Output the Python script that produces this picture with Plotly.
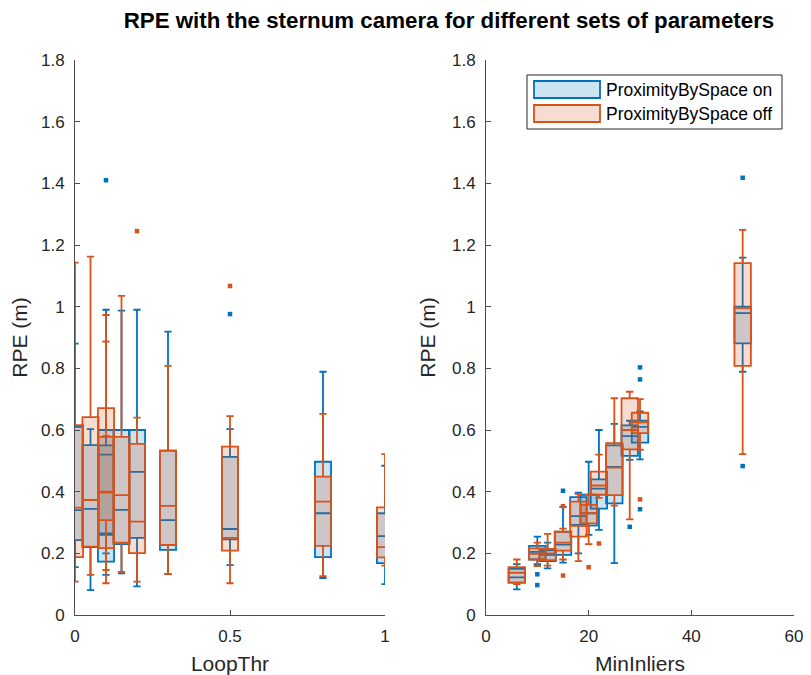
import plotly.graph_objects as go

BLUE = "#0072BD"
ORANGE = "#D95319"
BLUE_FILL = "rgba(0,114,189,0.2)"
ORANGE_FILL = "rgba(217,83,25,0.2)"

# ---------------- Left panel: LoopThr ----------------
loop_pos = [0, 0.05, 0.1, 0.1, 0.15, 0.2, 0.3, 0.5, 0.8, 1.0]
loop_on_lf = [0.155, 0.081, 0.13, 0.20, 0.135, 0.093, 0.133, 0.162, 0.12, 0.10]
loop_on_q1 = [0.243, 0.22, 0.173, 0.26, 0.23, 0.25, 0.211, 0.245, 0.188, 0.168]
loop_on_med = [0.34, 0.344, 0.265, 0.52, 0.341, 0.464, 0.308, 0.279, 0.33, 0.256]
loop_on_q3 = [0.61, 0.551, 0.60, 0.55, 0.60, 0.60, 0.533, 0.513, 0.497, 0.33]
loop_on_uf = [0.88, 0.603, 0.99, 0.58, 0.987, 0.99, 0.919, 0.603, 0.789, 0.484]
loop_on_out_x = [0.1, 0.5]
loop_on_out_y = [1.41, 0.976]

loop_off_lf = [0.108, 0.13, 0.103, 0.146, 0.14, 0.108, 0.133, 0.103, 0.126, 0.16]
loop_off_q1 = [0.188, 0.222, 0.217, 0.308, 0.235, 0.201, 0.227, 0.209, 0.224, 0.187]
loop_off_med = [0.348, 0.373, 0.397, 0.40, 0.389, 0.303, 0.354, 0.25, 0.368, 0.22]
loop_off_q3 = [0.616, 0.642, 0.671, 0.578, 0.578, 0.555, 0.533, 0.546, 0.449, 0.349]
loop_off_uf = [1.143, 1.162, 0.973, 0.887, 1.035, 0.64, 0.808, 0.645, 0.652, 0.522]
loop_off_out_x = [0.2, 0.5]
loop_off_out_y = [1.245, 1.067]

# ---------------- Right panel: MinInliers ----------------
inl_pos = [6, 10, 12, 15, 18, 20, 22, 25, 28, 30, 50]
inl_on_lf = [0.083, 0.165, 0.151, 0.17, 0.20, 0.26, 0.276, 0.168, 0.503, 0.505, 0.789]
inl_on_q1 = [0.105, 0.18, 0.175, 0.195, 0.292, 0.29, 0.345, 0.362, 0.516, 0.559, 0.881]
inl_on_med = [0.122, 0.205, 0.195, 0.228, 0.321, 0.33, 0.41, 0.48, 0.58, 0.61, 0.979]
inl_on_q3 = [0.15, 0.224, 0.21, 0.27, 0.382, 0.39, 0.44, 0.55, 0.615, 0.63, 1.0]
inl_on_uf = [0.165, 0.254, 0.235, 0.351, 0.397, 0.497, 0.60, 0.62, 0.63, 0.66, 1.159]
inl_on_out_x = [10, 10, 15, 28, 30, 30, 30, 50, 50]
inl_on_out_y = [0.132, 0.097, 0.403, 0.286, 0.803, 0.764, 0.343, 1.418, 0.483]

inl_off_lf = [0.10, 0.159, 0.16, 0.18, 0.175, 0.23, 0.38, 0.355, 0.31, 0.536, 0.522]
inl_off_q1 = [0.105, 0.18, 0.178, 0.209, 0.254, 0.297, 0.39, 0.389, 0.537, 0.59, 0.808]
inl_off_med = [0.137, 0.198, 0.20, 0.235, 0.289, 0.33, 0.42, 0.478, 0.60, 0.625, 0.995]
inl_off_q3 = [0.155, 0.216, 0.214, 0.27, 0.368, 0.357, 0.465, 0.557, 0.703, 0.656, 1.141]
inl_off_uf = [0.18, 0.235, 0.263, 0.28, 0.392, 0.39, 0.52, 0.703, 0.724, 0.70, 1.249]
inl_off_out_x = [15, 15, 20, 22, 30]
inl_off_out_y = [0.353, 0.128, 0.155, 0.232, 0.375]

y_ticks = [0, 0.2, 0.4, 0.6, 0.8, 1, 1.2, 1.4, 1.6, 1.8]
y_tick_text = ["0", "0.2", "0.4", "0.6", "0.8", "1", "1.2", "1.4", "1.6", "1.8"]

series_names = ["ProximityBySpace on", "ProximityBySpace off"]

fig = go.Figure()


def add_boxes(xaxis, yaxis, pos, lf, q1, med, q3, uf, color, fill, name, width):
    fig.add_trace(go.Box(
        x=pos, lowerfence=lf, q1=q1, median=med, q3=q3, upperfence=uf,
        width=width, whiskerwidth=0.45, boxpoints=False,
        line=dict(color=color, width=1.8), fillcolor=fill,
        name=name, showlegend=False,
        xaxis=xaxis, yaxis=yaxis, hoverinfo="skip"))


def add_outliers(xaxis, yaxis, xs, ys, color, name):
    fig.add_trace(go.Scatter(
        x=xs, y=ys, mode="markers",
        marker=dict(symbol="square", size=4.5, color=color),
        showlegend=False, xaxis=xaxis, yaxis=yaxis, name=name,
        hoverinfo="skip"))


ON, OFF = series_names
LW = 0.052
RW = 3.2

idxA = [0, 1, 2, 4, 5, 6, 7, 8, 9]
idxB = [3]


def sel(arr, idx):
    return [arr[i] for i in idx]


for idx in (idxA, idxB):
    add_boxes("x", "y", sel(loop_pos, idx), sel(loop_on_lf, idx), sel(loop_on_q1, idx),
              sel(loop_on_med, idx), sel(loop_on_q3, idx), sel(loop_on_uf, idx),
              BLUE, BLUE_FILL, ON, LW)
for idx in (idxA, idxB):
    add_boxes("x", "y", sel(loop_pos, idx), sel(loop_off_lf, idx), sel(loop_off_q1, idx),
              sel(loop_off_med, idx), sel(loop_off_q3, idx), sel(loop_off_uf, idx),
              ORANGE, ORANGE_FILL, OFF, LW)
add_outliers("x", "y", loop_on_out_x, loop_on_out_y, BLUE, ON)
add_outliers("x", "y", loop_off_out_x, loop_off_out_y, ORANGE, OFF)

add_boxes("x2", "y2", inl_pos, inl_on_lf, inl_on_q1, inl_on_med, inl_on_q3, inl_on_uf,
          BLUE, BLUE_FILL, ON, RW)
add_boxes("x2", "y2", inl_pos, inl_off_lf, inl_off_q1, inl_off_med, inl_off_q3, inl_off_uf,
          ORANGE, ORANGE_FILL, OFF, RW)
add_outliers("x2", "y2", inl_on_out_x, inl_on_out_y, BLUE, ON)
add_outliers("x2", "y2", inl_off_out_x, inl_off_out_y, ORANGE, OFF)

AX = "#262626"
axis_common = dict(showline=True, linecolor="#4d4d4d", linewidth=1, ticks="inside",
                   ticklen=5, tickcolor="#4d4d4d", showgrid=False, zeroline=False,
                   tickfont=dict(size=17, color=AX), mirror=False, automargin=False,
                   ticklabelstandoff=6)

# page has an 8px body margin: the figure is drawn from (8, 8)
OFFS = 8
W, H = 811 - OFFS, 675 - OFFS
ML = 75 - OFFS
MT = 60 - OFFS
MR = W - (794 - OFFS)
MB = H - (615 - OFFS)
PW, PH = W - ML - MR, H - MT - MB


def px(xp):
    return (xp - 75) / PW


def py(yp):
    return (615 - yp) / PH


shapes = [dict(type="rect", xref="paper", yref="paper",
               x0=px(527), x1=px(782), y0=py(129), y1=py(75),
               line=dict(color="#262626", width=1), fillcolor="white", layer="above")]
annotations = []
legend_rows = [(BLUE, BLUE_FILL, 81, 98), (ORANGE, ORANGE_FILL, 105, 122)]
for (col, fill, y0, y1), name in zip(legend_rows, series_names):
    shapes.append(dict(type="rect", xref="paper", yref="paper",
                       x0=px(534), x1=px(600), y0=py(y1), y1=py(y0),
                       line=dict(color=col, width=1.8), fillcolor=fill, layer="above"))
    annotations.append(dict(xref="paper", yref="paper", x=px(604), y=py((y0 + y1) / 2),
                            xanchor="left", yanchor="middle", text=name, showarrow=False,
                            font=dict(size=17.5, color="black")))

fig.update_layout(
    width=W, height=H,
    margin=dict(l=ML, r=MR, t=MT, b=MB),
    paper_bgcolor="white", plot_bgcolor="white",
    font=dict(family="Liberation Sans, Arial, sans-serif", color=AX),
    boxmode="overlay",
    showlegend=False,
    title=dict(text="<b>RPE with the sternum camera for different sets of parameters</b>",
               x=(449 - OFFS) / W, xanchor="center", y=1 - 12 / H, yanchor="middle",
               font=dict(size=22.3, color="black")),
    xaxis=dict(domain=[0, px(385)], range=[0, 1], tickvals=[0, 0.5, 1],
               ticktext=["0", "0.5", "1"],
               title=dict(text="LoopThr", font=dict(size=21), standoff=11), **axis_common),
    yaxis=dict(domain=[0, 1], range=[0, 1.8], tickvals=y_ticks, ticktext=y_tick_text,
               title=dict(text="RPE (m)", font=dict(size=21), standoff=10), **axis_common),
    xaxis2=dict(domain=[px(486), 1], range=[0, 60], tickvals=[0, 20, 40, 60],
                title=dict(text="MinInliers", font=dict(size=21), standoff=11),
                anchor="y2", **axis_common),
    yaxis2=dict(domain=[0, 1], range=[0, 1.8], tickvals=y_ticks, ticktext=y_tick_text,
                anchor="x2",
                title=dict(text="RPE (m)", font=dict(size=21), standoff=10), **axis_common),
    shapes=shapes,
    annotations=annotations,
)

fig.write_html("out.html")
